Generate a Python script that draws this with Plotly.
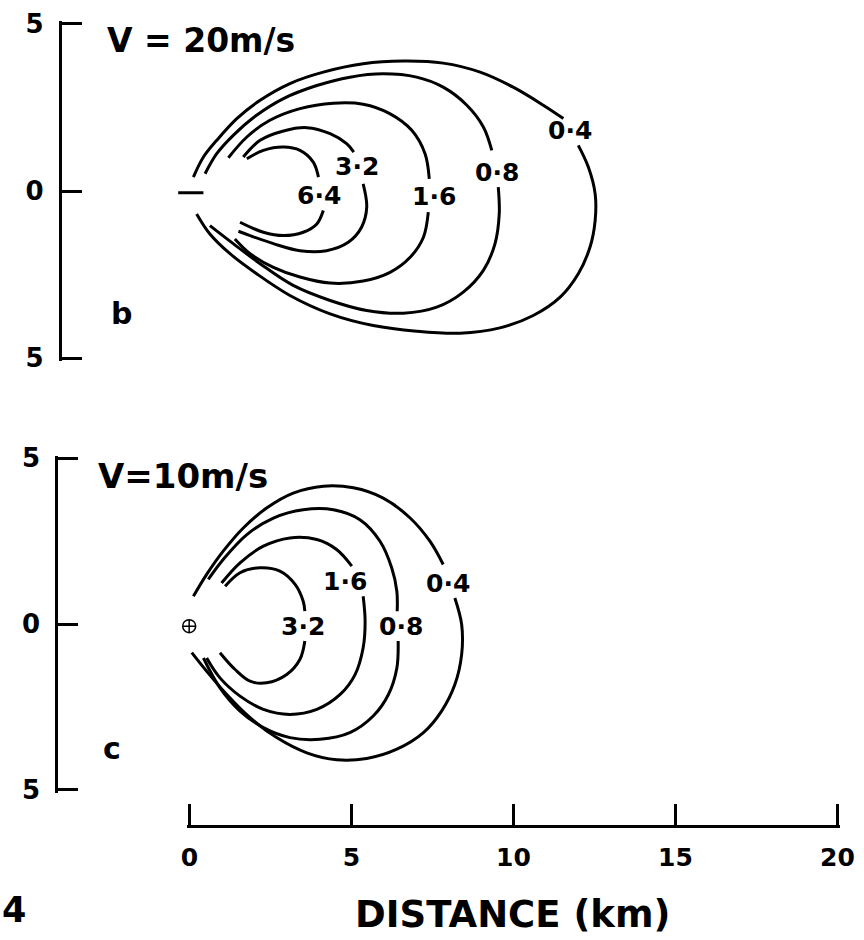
import plotly.graph_objects as go

# ---- contour levels (concentration) ----
levels_b = [0.4, 0.8, 1.6, 3.2, 6.4]
levels_c = [0.4, 0.8, 1.6, 3.2]

# ---- panel b: V = 20 m/s, isopleths (km); None marks the gap at the label ----
b04_x = [0.12, 0.43, 0.84, 1.46, 2.18, 3.10, 4.13, 5.36, 6.60, 7.83, 8.97, 9.99, 10.92, 11.54, None,
         12.0, 12.31, 12.52, 12.52, 12.36, 12.0, 11.44, 10.61, 9.58, 8.35, 7.01, 5.67, 4.34, 3.10, 2.07, 1.25, 0.63, 0.22]
b04_y = [0.42, 1.02, 1.52, 2.17, 2.72, 3.22, 3.56, 3.81, 3.89, 3.83, 3.56, 3.11, 2.57, 2.17, None,
         1.37, 0.72, -0.08, -0.88, -1.68, -2.47, -3.17, -3.72, -4.09, -4.25, -4.19, -4.02, -3.67, -3.12, -2.47, -1.87, -1.28, -0.68]

b08_x = [0.48, 0.84, 1.35, 2.07, 2.90, 3.93, 4.95, 5.98, 7.01, 7.83, 8.56, 9.07, 9.33, None,
         9.53, 9.56, 9.43, 9.07, 8.45, 7.63, 6.60, 5.47, 4.34, 3.20, 2.18, 1.35, 0.63]
b08_y = [0.52, 1.12, 1.67, 2.27, 2.77, 3.16, 3.41, 3.51, 3.41, 3.11, 2.57, 1.92, 1.22, None,
         0.12, -0.68, -1.57, -2.37, -3.02, -3.47, -3.65, -3.57, -3.27, -2.82, -2.17, -1.57, -1.03]

b16_x = [1.20, 1.77, 2.48, 3.41, 4.44, 5.36, 6.18, 6.86, 7.27, 7.40, None,
         7.37, 7.22, 6.81, 6.19, 5.36, 4.34, 3.41, 2.59, 1.87, 1.40]
b16_y = [1.00, 1.62, 2.12, 2.47, 2.63, 2.60, 2.32, 1.82, 1.12, 0.37, None,
         -0.63, -1.38, -1.98, -2.43, -2.69, -2.75, -2.57, -2.28, -1.87, -1.43]

b32_x = [1.66, 2.18, 2.90, 3.62, 4.34, 4.85, 5.07, None, 5.36, 5.47, 5.31, 4.90, 4.23, 3.41, 2.59, 1.87, 1.51]
b32_y = [1.02, 1.52, 1.80, 1.90, 1.72, 1.42, 1.17, None, 0.22, -0.48, -1.08, -1.53, -1.78, -1.78, -1.57, -1.33, -1.20]

b64_x = [1.77, 2.28, 2.90, 3.41, 3.82, 3.98, None, 4.13, 3.93, 3.51, 2.90, 2.28, 1.56]
b64_y = [0.97, 1.22, 1.32, 1.22, 0.87, 0.42, None, -0.58, -0.98, -1.23, -1.33, -1.23, -0.93]

# label positions for panel b (km)
b_lab_x = [11.74, 9.49, 7.55, 5.17, 4.00]
b_lab_y = [1.82, 0.56, -0.16, 0.74, -0.13]

# ---- panel c: V = 10 m/s ----
c04_x = [0.12, 0.53, 1.04, 1.66, 2.38, 3.20, 4.13, 5.06, 5.98, 6.81, 7.42, 7.83, None,
         8.19, 8.40, 8.40, 8.19, 7.78, 7.22, 6.40, 5.47, 4.54, 3.62, 2.69, 1.87, 1.15, 0.53, 0.07]
c04_y = [0.84, 1.50, 2.20, 2.90, 3.50, 3.95, 4.16, 4.11, 3.80, 3.20, 2.50, 1.80, None,
         0.79, -0.01, -0.91, -1.82, -2.62, -3.27, -3.77, -4.05, -4.09, -3.88, -3.42, -2.82, -2.12, -1.42, -0.86]

c08_x = [0.58, 1.04, 1.77, 2.59, 3.51, 4.44, 5.26, 5.88, 6.24, 6.40, 6.41, None,
         6.44, 6.40, 6.14, 5.67, 4.95, 4.03, 3.10, 2.28, 1.56, 0.94, 0.43]
c08_y = [1.35, 1.95, 2.70, 3.20, 3.45, 3.45, 3.15, 2.50, 1.70, 0.99, 0.39, None,
         -0.51, -1.32, -2.12, -2.77, -3.27, -3.47, -3.42, -3.12, -2.62, -1.92, -1.02]

c16_x = [0.99, 1.56, 2.28, 3.10, 3.93, 4.54, 5.01, None,
         5.36, 5.42, 5.36, 5.11, 4.65, 3.93, 3.10, 2.28, 1.56, 0.94, 0.53]
c16_y = [1.24, 1.85, 2.35, 2.60, 2.55, 2.25, 1.75, None,
         0.84, 0.09, -0.71, -1.52, -2.12, -2.57, -2.72, -2.57, -2.17, -1.62, -1.02]

c32_x = [1.10, 1.56, 2.18, 2.79, 3.26, 3.51, 3.56, None, 3.56, 3.41, 3.00, 2.38, 1.87, 1.40, 0.94]
c32_y = [1.14, 1.55, 1.70, 1.60, 1.20, 0.69, 0.39, None, -0.51, -1.06, -1.52, -1.77, -1.72, -1.36, -0.86]

c_lab_x = [7.98, 6.53, 4.80, 3.50]
c_lab_y = [1.23, -0.06, 1.30, -0.06]

# source positions
src_b = (0.04, -0.05)
src_c = (-0.01, -0.06)

# axis ticks
y_tickvals = [-5, 0, 5]
y_ticktext = ["5", "0", "5"]
x_ticks = [0, 5, 10, 15, 20]

FONT = "DejaVu Sans"
INK = "black"

# pixel geometry of the page (864 x 940)
W, H = 864, 940
PAD = 0.08  # small range overhang so the end ticks are kept


def lvl_text(v):
    return f"{v:.1f}".replace(".", "\u00b7")


def ydom(top_px, bottom_px):
    # vertical domain for a -5..5 panel, widened by the overhang
    k = (bottom_px - top_px) / 10.0
    return [1 - (bottom_px + PAD * k) / H, 1 - (top_px - PAD * k) / H]


fig = go.Figure()

panel_b = [(b04_x, b04_y), (b08_x, b08_y), (b16_x, b16_y), (b32_x, b32_y), (b64_x, b64_y)]
panel_c = [(c04_x, c04_y), (c08_x, c08_y), (c16_x, c16_y), (c32_x, c32_y)]

for (xs, ys) in panel_b:
    fig.add_trace(go.Scatter(x=xs, y=ys, mode="lines", xaxis="x", yaxis="y",
                             line=dict(color=INK, width=3, shape="spline", smoothing=1.0),
                             connectgaps=False, hoverinfo="skip"))
for (xs, ys) in panel_c:
    fig.add_trace(go.Scatter(x=xs, y=ys, mode="lines", xaxis="x2", yaxis="y2",
                             line=dict(color=INK, width=3, shape="spline", smoothing=1.0),
                             connectgaps=False, hoverinfo="skip"))

# source symbols
fig.add_trace(go.Scatter(x=[src_b[0]], y=[src_b[1]], mode="markers", xaxis="x", yaxis="y",
                         marker=dict(symbol="line-ew", size=18, line=dict(color=INK, width=3)),
                         hoverinfo="skip"))
fig.add_trace(go.Scatter(x=[src_c[0]], y=[src_c[1]], mode="markers", xaxis="x2", yaxis="y2",
                         marker=dict(symbol="circle-cross-open", size=13, color=INK,
                                     line=dict(color=INK, width=1.5)),
                         hoverinfo="skip"))

# distance scale bar
fig.add_trace(go.Scatter(x=x_ticks, y=[0] * len(x_ticks), mode="markers", xaxis="x3", yaxis="y3",
                         marker=dict(opacity=0), hoverinfo="skip"))

annotations = []
for v, lx, ly in zip(levels_b, b_lab_x, b_lab_y):
    annotations.append(dict(x=lx, y=ly, xref="x", yref="y", text=lvl_text(v), showarrow=False,
                            font=dict(family=FONT, size=25, color=INK, weight="bold")))
for v, lx, ly in zip(levels_c, c_lab_x, c_lab_y):
    annotations.append(dict(x=lx, y=ly, xref="x2", yref="y2", text=lvl_text(v), showarrow=False,
                            font=dict(family=FONT, size=25, color=INK, weight="bold")))


def paper_text(text, px, py, size, xanchor="center"):
    return dict(x=px / W, y=1 - py / H, xref="paper", yref="paper", text=text,
                showarrow=False, xanchor=xanchor, yanchor="middle",
                font=dict(family=FONT, size=size, color=INK, weight="bold"))


annotations += [
    paper_text("V = 20m/s", 201, 41, 33),
    paper_text("V=10m/s", 183, 476, 34),
    paper_text("b", 122, 313, 30),
    paper_text("c", 112, 748, 30),
    paper_text("DISTANCE (km)", 512, 914, 37),
    paper_text("4", 0, 910, 35, xanchor="left"),
]

axis_common = dict(showgrid=False, zeroline=False, automargin=False)
yax = dict(range=[-5 - PAD, 5 + PAD], showline=True, linewidth=3, linecolor=INK, ticks="inside",
           ticklen=20, tickwidth=3, tickcolor=INK, tickvals=y_tickvals, ticktext=y_ticktext,
           tickfont=dict(family=FONT, size=26, color=INK, weight="bold"), ticklabelstandoff=10,
           **axis_common)

# x scale: 0 km at 189.5 px, 32.4 px per km
X0, KX = 189.5, 32.4

fig.update_layout(
    width=W, height=H, margin=dict(l=0, r=0, t=0, b=0, autoexpand=False),
    paper_bgcolor="white", plot_bgcolor="white", showlegend=False,
    xaxis=dict(domain=[61.7 / W, 1], range=[(61.7 - X0) / KX, (W - X0) / KX], visible=False,
               anchor="y", **axis_common),
    yaxis=dict(domain=ydom(24, 358.3), anchor="x", **yax),
    xaxis2=dict(domain=[58.3 / W, 1], range=[(58.3 - X0) / KX, (W - X0) / KX], visible=False,
                anchor="y2", **axis_common),
    yaxis2=dict(domain=ydom(458.3, 790), anchor="x2", **yax),
    xaxis3=dict(domain=[(X0 - PAD * KX) / W, (X0 + (20 + PAD) * KX) / W], range=[-PAD, 20 + PAD],
                anchor="y3", showline=True, linewidth=3, linecolor=INK, ticks="inside", ticklen=21,
                tickwidth=3, tickcolor=INK, tickvals=x_ticks, ticktext=[str(t) for t in x_ticks],
                ticklabelstandoff=8, tickfont=dict(family=FONT, size=25, color=INK, weight="bold"),
                **axis_common),
    yaxis3=dict(domain=[1 - 825 / H, 1 - 800 / H], range=[0, 1], visible=False, anchor="x3",
                **axis_common),
    annotations=annotations,
)

fig.write_html("out.html")
